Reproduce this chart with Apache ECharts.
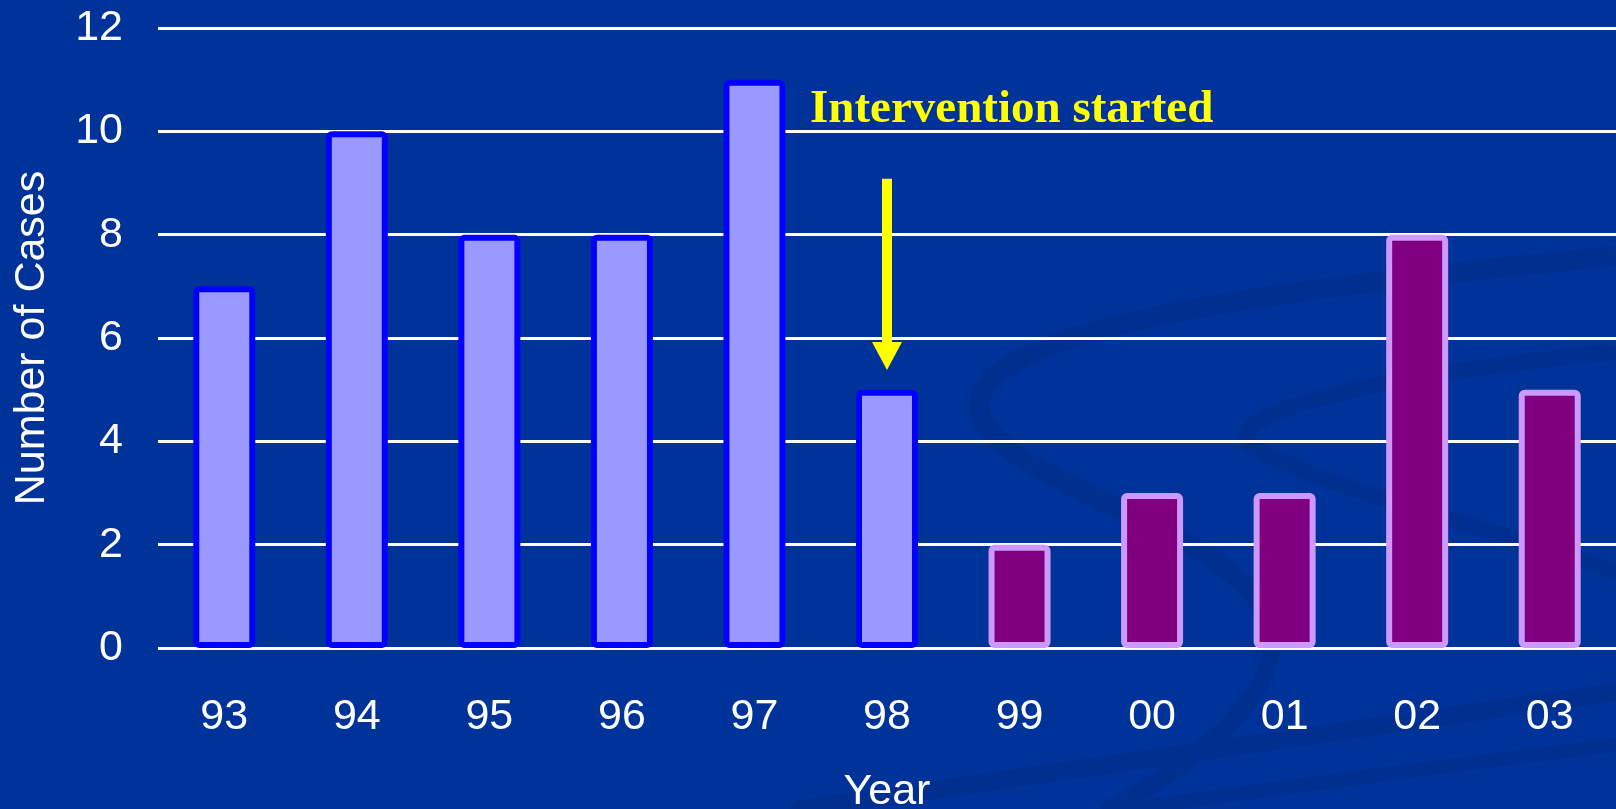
<!DOCTYPE html>
<html>
<head>
<meta charset="utf-8">
<title>Number of Cases by Year</title>
<script src="https://cdn.jsdelivr.net/npm/echarts@6/dist/echarts.min.js"></script>
<style>
  html, body { margin: 0; padding: 0; background: #003399; }
  #chart { width: 1616px; height: 809px; }
</style>
</head>
<body>
<div id="chart"></div>
<script>
// data
const years = ['93', '94', '95', '96', '97', '98', '99', '00', '01', '02', '03'];
const cases = [7, 10, 8, 8, 11, 5, 2, 3, 3, 8, 5];
const yTicks = [0, 2, 4, 6, 8, 10, 12];
const firstPostYear = '99';
const arrowYear = '98';
const arrowFrom = 9.08;
const arrowTo = 5.65;

const preStyle = { color: '#9999FF', borderColor: '#0000FF', borderWidth: 6, borderRadius: 3 };
const postStyle = { color: '#800080', borderColor: '#CC99FF', borderWidth: 6, borderRadius: 3 };

const postStart = years.indexOf(firstPostYear);
const barData = cases.map((v, i) => ({
  value: v,
  itemStyle: i >= postStart ? postStyle : preStyle
}));

const font = 'Liberation Sans, Arial, sans-serif';

// faint swirls of the slide template, as bezier pieces
function swirl(x1, y1, cpx1, cpy1, cpx2, cpy2, x2, y2, w) {
  return {
    type: 'bezierCurve', z: -10, silent: true,
    shape: { x1, y1, cpx1, cpy1, cpx2, cpy2, x2, y2 },
    style: { stroke: '#002F90', lineWidth: w, fill: null, lineCap: 'round' }
  };
}

const chart = echarts.init(document.getElementById('chart'));
const option = {
  backgroundColor: '#003399',
  animation: false,
  grid: { left: 158, right: 0, top: 28, bottom: 161, outerBoundsMode: 'none' },
  graphic: [
    swirl(1616, 256, 1270, 290, 930, 330, 985, 425, 20),
    swirl(985, 425, 1030, 495, 1270, 540, 1272, 640, 20),
    swirl(1272, 640, 1272, 700, 1200, 760, 1110, 809, 18),
    swirl(1616, 352, 1380, 375, 1200, 415, 1258, 450, 16),
    swirl(1258, 450, 1330, 490, 1500, 530, 1616, 572, 16),
    swirl(800, 809, 1100, 765, 1400, 725, 1616, 692, 18),
    swirl(1130, 809, 1300, 785, 1450, 765, 1616, 745, 14),
    {
      type: 'text',
      left: 810,
      top: 86,
      style: {
        text: 'Intervention started',
        fill: '#FFFF00',
        font: 'bold 47px "Liberation Serif", "DejaVu Serif", serif'
      }
    }
  ],
  xAxis: {
    type: 'category',
    data: years,
    name: 'Year',
    nameLocation: 'middle',
    nameGap: 123,
    nameTextStyle: { color: '#FFFFFF', fontSize: 43, fontFamily: font },
    axisLine: { show: false },
    axisTick: { show: false },
    axisLabel: { color: '#FFFFFF', fontSize: 43, margin: 48, fontFamily: font }
  },
  yAxis: {
    type: 'value',
    min: yTicks[0],
    max: yTicks[yTicks.length - 1],
    interval: 2,
    name: 'Number of Cases',
    nameLocation: 'middle',
    nameGap: 104,
    nameTextStyle: { color: '#FFFFFF', fontSize: 43, fontFamily: font },
    axisLine: { show: false },
    axisTick: { show: false },
    axisLabel: { color: '#FFFFFF', fontSize: 43, margin: 35, fontFamily: font },
    splitLine: { lineStyle: { color: '#FFFFFF', width: 3 } }
  },
  series: [
    {
      type: 'bar',
      data: barData,
      barWidth: 62,
      z: 3,
      markLine: {
        silent: true,
        symbol: ['none', 'triangle'],
        symbolSize: [30, 28],
        label: { show: false },
        lineStyle: { color: '#FFFF00', width: 10, type: 'solid' },
        emphasis: { disabled: true },
        data: [[
          { coord: [arrowYear, arrowFrom] },
          { coord: [arrowYear, arrowTo] }
        ]]
      }
    }
  ]
};

option && chart.setOption(option);
</script>
</body>
</html>
